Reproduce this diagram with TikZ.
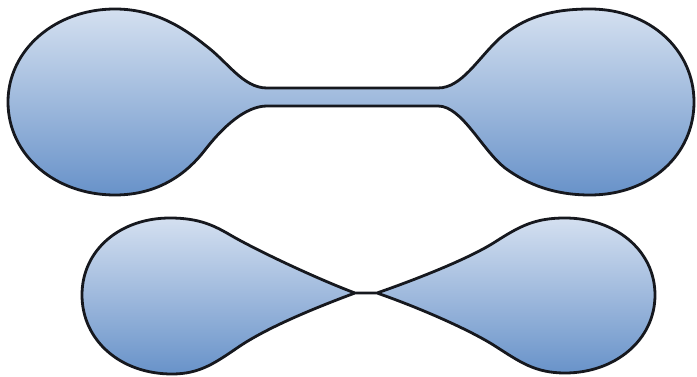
\documentclass[tikz,border=0pt]{standalone}
\definecolor{lobetop}{RGB}{212,224,240}
\definecolor{lobebot}{RGB}{104,146,201}
\definecolor{outline}{RGB}{22,24,30}
\tikzset{blob/.style={draw=outline,line width=2.8pt,line join=round,top color=lobetop,bottom color=lobebot}}
\begin{document}
\begin{tikzpicture}[x=1pt,y=-1pt]
\useasboundingbox (0,0) rectangle (697,377);
% upper shape: two lobes joined by a neck
\draw[blob] (267,88) -- (438,88)
  .. controls (462,88) and (478,58) .. (500,38)
  .. controls (523,18) and (550,9) .. (590,9)
  .. controls (650,9) and (694,50) .. (694,102)
  .. controls (694,155) and (650,195) .. (590,195)
  .. controls (555,195) and (528,185) .. (505,168)
  .. controls (482,150) and (462,106) .. (438,106)
  -- (267,106)
  .. controls (245,106) and (222,128) .. (205,150)
  .. controls (188,172) and (160,195) .. (115,195)
  .. controls (55,195) and (8,155) .. (8,102)
  .. controls (8,50) and (55,9) .. (115,9)
  .. controls (152,9) and (180,25) .. (205,45)
  .. controls (228,62) and (243,88) .. (267,88) -- cycle;
% lower shape: two lobes pinched together
\draw[blob] (355,293) -- (377,293)
  .. controls (420,278) and (470,258) .. (495,242)
  .. controls (520,226) and (535,218) .. (565,218)
  .. controls (615,218) and (655,250) .. (655,295)
  .. controls (655,340) and (615,373) .. (565,373)
  .. controls (535,373) and (520,362) .. (495,346)
  .. controls (470,330) and (420,308) .. (377,293)
  -- (355,293)
  .. controls (320,306) and (270,326) .. (240,346)
  .. controls (215,363) and (200,374) .. (172,374)
  .. controls (120,374) and (82,340) .. (82,295)
  .. controls (82,250) and (120,218) .. (170,218)
  .. controls (200,218) and (215,226) .. (232,236)
  .. controls (260,252) and (320,280) .. (355,293) -- cycle;
\end{tikzpicture}
\end{document}
